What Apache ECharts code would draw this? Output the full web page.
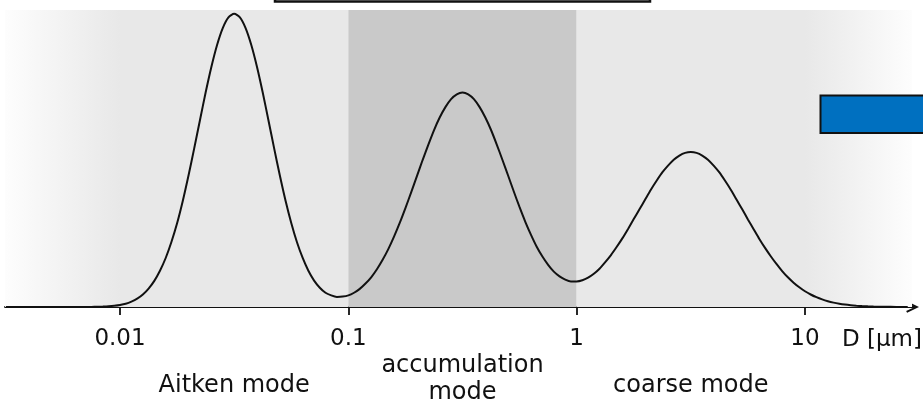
<!DOCTYPE html>
<html>
<head>
<meta charset="utf-8">
<script src="https://cdn.jsdelivr.net/npm/echarts@6/dist/echarts.min.js"></script>
<style>
  html, body { margin: 0; padding: 0; background: #ffffff; }
  #chart { width: 923px; height: 408px; }
</style>
</head>
<body>
<div id="chart"></div>
<script>
// Particle diameter D [µm]: 0.025-decade steps across the modes, coarser in the empty tails
const diameters = [
  0.003162, 0.003548, 0.003981, 0.004467, 0.005012, 0.005623, 0.006310, 0.006683, 0.007079, 0.007499,
  0.007943, 0.008414, 0.008913, 0.009441,
  0.01000, 0.01059, 0.01122, 0.01189, 0.01259, 0.01334, 0.01413, 0.01496, 0.01585, 0.01679,
  0.01778, 0.01884, 0.01995, 0.02113, 0.02239, 0.02371, 0.02512, 0.02661, 0.02818, 0.02985,
  0.03162, 0.03350, 0.03548, 0.03758, 0.03981, 0.04217, 0.04467, 0.04732, 0.05012, 0.05309,
  0.05623, 0.05957, 0.06310, 0.06683, 0.07079, 0.07499, 0.07943, 0.08414, 0.08913, 0.09441,
  0.1000, 0.1059, 0.1122, 0.1189, 0.1259, 0.1334, 0.1413, 0.1496, 0.1585, 0.1679,
  0.1778, 0.1884, 0.1995, 0.2113, 0.2239, 0.2371, 0.2512, 0.2661, 0.2818, 0.2985,
  0.3162, 0.3350, 0.3548, 0.3758, 0.3981, 0.4217, 0.4467, 0.4732, 0.5012, 0.5309,
  0.5623, 0.5957, 0.6310, 0.6683, 0.7079, 0.7499, 0.7943, 0.8414, 0.8913, 0.9441,
  1.000, 1.059, 1.122, 1.189, 1.259, 1.334, 1.413, 1.496, 1.585, 1.679,
  1.778, 1.884, 1.995, 2.113, 2.239, 2.371, 2.512, 2.661, 2.818, 2.985,
  3.162, 3.350, 3.548, 3.758, 3.981, 4.217, 4.467, 4.732, 5.012, 5.309,
  5.623, 5.957, 6.310, 6.683, 7.079, 7.499, 7.943, 8.414, 8.913, 9.441,
  10.00, 10.59, 11.22, 11.89, 12.59, 13.34, 14.13, 14.96, 15.85, 16.79,
  17.78, 18.84, 19.95, 22.39, 25.12, 28.18
];

// Number size distribution dN/dlogD (relative units), one value per diameter above
const concentration = [
  0, 0, 0, 0, 0, 0, 0.01, 0.01, 0.02, 0.04,
  0.07, 0.13, 0.23, 0.40,
  0.66, 1.08, 1.8, 2.8, 4.2, 6.2, 8.8, 12.2, 16.5, 21.9,
  28.2, 35.8, 44.3, 53.4, 62.9, 72.2, 80.8, 88.2, 93.9, 97.5,
  98.7, 97.5, 93.9, 88.2, 80.8, 72.2, 62.9, 53.4, 44.3, 35.8,
  28.3, 21.8, 16.5, 12.2, 8.9, 6.5, 4.8, 3.9, 3.4, 3.5,
  3.9, 4.8, 6.1, 7.9, 10.0, 12.7, 15.9, 19.5, 23.7, 28.3,
  33.3, 38.6, 44.0, 49.4, 54.6, 59.5, 63.8, 67.3, 70.0, 71.6,
  72.2, 71.6, 70.0, 67.3, 63.8, 59.6, 54.7, 49.5, 44.2, 38.8,
  33.6, 28.7, 24.3, 20.3, 17.0, 14.2, 11.9, 10.3, 9.2, 8.6,
  8.6, 9.0, 9.9, 11.2, 12.9, 15.1, 17.5, 20.2, 23.1, 26.3,
  29.6, 32.9, 36.2, 39.5, 42.5, 45.3, 47.6, 49.6, 51.0, 51.9,
  52.2, 51.9, 51.0, 49.6, 47.6, 45.3, 42.5, 39.5, 36.2, 32.9,
  29.5, 26.2, 22.9, 19.9, 17.1, 14.5, 12.1, 10.0, 8.2, 6.65,
  5.3, 4.21, 3.3, 2.55, 1.95, 1.47, 1.10, 0.81, 0.59, 0.43,
  0.31, 0.22, 0.15, 0.07, 0.03, 0.01
];

// Axis ticks
const tickValues = [0.01, 0.1, 1, 10];
const tickLabels = ['0.01', '0.1', '1', '10'];

// Axis extent and mode boundaries (µm)
const axisRange = [0.003135, 29.42];
const modeEdges = [0.01, 0.1, 1, 10];

// Mode names and their centre diameters
const modeNames = ['Aitken mode', 'accumulation\nmode', 'coarse mode'];
const modeCenters = [0.03162, 0.3162, 3.162];

const FONT = 'DejaVu Sans';
const INK = '#111111';
const LIGHT = '#e8e8e8';
const DARK = '#c9c9c9';

const chart = echarts.init(document.getElementById('chart'), null, { renderer: 'canvas' });

const fade = (from, to) => ({
  type: 'linear', x: 0, y: 0, x2: 1, y2: 0,
  colorStops: [{ offset: 0, color: from }, { offset: 1, color: to }]
});

// Open chevron arrow head (pointing up before the axis rotates it), with a stem to the line end
const arrowPath = 'path://M0,10.2L5,0L10,10.2L8.5,11L5,3.6L1.5,11Z M4.1,1.5L5.9,1.5L5.9,12L4.1,12Z';

chart.setOption({
  animation: false,
  backgroundColor: '#ffffff',
  grid: { left: 5, right: 11, top: 10, bottom: 101, containLabel: false, outerBoundsMode: 'none' },
  xAxis: {
    type: 'log',
    logBase: 10,
    min: axisRange[0],
    max: axisRange[1],
    axisLine: {
      show: true,
      onZero: false,
      symbol: ['none', arrowPath],
      symbolSize: [12, 14],
      lineStyle: { color: INK, width: 1.8 }
    },
    axisTick: {
      show: true,
      length: 8,
      customValues: tickValues,
      lineStyle: { color: INK, width: 1.8 }
    },
    axisLabel: {
      show: true,
      customValues: tickValues,
      margin: 21,
      fontFamily: FONT,
      fontSize: 23,
      color: INK,
      formatter: (v) => {
        let best = 0;
        tickValues.forEach((t, i) => {
          if (Math.abs(Math.log10(t) - Math.log10(v)) < Math.abs(Math.log10(tickValues[best]) - Math.log10(v))) best = i;
        });
        return tickLabels[best];
      }
    },
    splitLine: { show: false },
    minorTick: { show: false },
    name: 'D [µm]',
    nameLocation: 'end',
    nameGap: 10,
    nameTextStyle: {
      align: 'right',
      verticalAlign: 'top',
      padding: [22, 0, 0, 0],
      fontFamily: FONT,
      fontSize: 23,
      color: INK
    }
  },
  yAxis: { type: 'value', min: 0, max: 100, show: false },
  graphic: [
    {
      type: 'rect',
      z: 100,
      shape: { x: 275, y: -30, width: 375, height: 31.5 },
      style: { fill: '#ffffff', stroke: INK, lineWidth: 2.5 }
    },
    {
      type: 'rect',
      z: 100,
      shape: { x: 820.5, y: 95.5, width: 110, height: 37.5 },
      style: { fill: '#0070c0', stroke: INK, lineWidth: 2 }
    }
  ],
  series: [
    {
      type: 'line',
      data: diameters.map((d, i) => [d, concentration[i]]),
      symbol: 'none',
      smooth: 0.25,
      z: 3,
      lineStyle: { color: INK, width: 2 },
      markArea: {
        silent: true,
        label: { show: false },
        data: [
          [{ xAxis: axisRange[0], itemStyle: { color: fade('#fdfdfd', LIGHT), opacity: 1 } }, { xAxis: modeEdges[0] }],
          [{ xAxis: modeEdges[0], itemStyle: { color: LIGHT, opacity: 1 } }, { xAxis: modeEdges[1] }],
          [{ xAxis: modeEdges[1], itemStyle: { color: DARK, opacity: 1 } }, { xAxis: modeEdges[2] }],
          [{ xAxis: modeEdges[2], itemStyle: { color: LIGHT, opacity: 1 } }, { xAxis: modeEdges[3] }],
          [{ xAxis: modeEdges[3], itemStyle: { color: fade(LIGHT, '#fdfdfd'), opacity: 1 } }, { xAxis: axisRange[1] }]
        ]
      }
    },
    {
      type: 'scatter',
      silent: true,
      clip: false,
      symbolSize: 2,
      itemStyle: { color: 'rgba(0,0,0,0)' },
      label: {
        show: true,
        position: 'inside',
        formatter: '{b}',
        fontFamily: FONT,
        fontSize: 24,
        lineHeight: 27,
        color: INK,
        opacity: 1,
        textBorderWidth: 0,
        align: 'center',
        verticalAlign: 'middle'
      },
      data: modeCenters.map((c, i) => ({
        name: modeNames[i],
        value: [c, 0],
        label: { offset: [0, i === 1 ? 72.5 : 79] }
      }))
    }
  ]
});
</script>
</body>
</html>
